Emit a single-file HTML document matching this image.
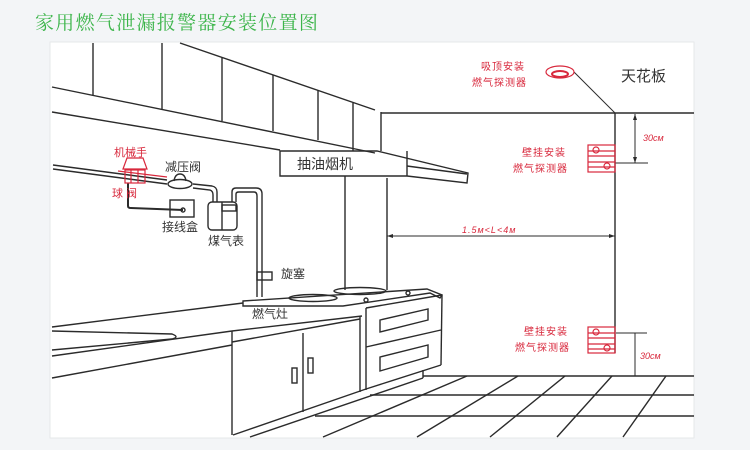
<!DOCTYPE html>
<html><head><meta charset="utf-8"><style>
body{margin:0;width:750px;height:450px;background:#f3f5f7;overflow:hidden}
svg{position:absolute;left:0;top:0}
</style></head><body>
<svg width="750" height="450" viewBox="0 0 750 450" xmlns="http://www.w3.org/2000/svg">
<text x="35" y="29" font-family="Liberation Serif, Noto Serif CJK SC, serif" font-size="19" fill="#3cb54a" letter-spacing="1.3">家用燃气泄漏报警器安装位置图</text>
<rect x="50" y="42" width="644" height="396" fill="#fff" stroke="#e6e8ea"/>
<g fill="none" stroke="#2b2b2b" stroke-width="1.4">
<!-- upper cabinets -->
<line x1="180" y1="43" x2="375" y2="110"/>
<line x1="52" y1="87" x2="375" y2="153"/>
<line x1="52" y1="112" x2="280" y2="150"/>
<line x1="93" y1="43" x2="93" y2="95"/>
<line x1="162" y1="43" x2="162" y2="109"/>
<line x1="222" y1="57" x2="222" y2="121"/>
<line x1="273" y1="75" x2="273" y2="131"/>
<line x1="318" y1="90" x2="318" y2="140"/>
<line x1="353" y1="103" x2="353" y2="151"/>
<line x1="381" y1="112" x2="381" y2="151"/>
<!-- ceiling & wall -->
<line x1="381" y1="113" x2="694" y2="113"/>
<line x1="615" y1="113" x2="615" y2="353"/>
<!-- hood -->
<path d="M280,151 L377,151 L468,173 L467,183 L407,176 L280,176 Z"/>
<line x1="377" y1="151" x2="407" y2="176" stroke-width="0"/>
<line x1="407" y1="151" x2="407" y2="176"/>
<line x1="407" y1="166" x2="467" y2="174"/>
<line x1="345" y1="176" x2="345" y2="290"/>
<line x1="387" y1="178" x2="387" y2="290"/>
<!-- dimension L -->
<line x1="387" y1="236" x2="615" y2="236" stroke-width="1"/>
<!-- gas pipe -->
<path d="M53,165 L167,180 M53,169 L167,184"/>
<path d="M193,184 L212,186 Q217,187 217,192 L217,202 M193,188 L210,190 Q213,191 213,195 L213,202"/>
<path d="M232,202 L232,192 Q232,188 236,188 L256,188 Q262,188 262,194 L262,297 M236,202 L236,194 Q236,192 239,192 L254,192 Q257,192 257,196 L257,297"/>
<rect x="208" y="202" width="29" height="28" rx="4"/>
<rect x="222" y="205" width="14" height="6"/>
<line x1="222" y1="202" x2="222" y2="230"/>
<ellipse cx="180" cy="184" rx="12" ry="4.5"/>
<path d="M174,181 Q175,174 180,174 Q185,174 186,181"/>
<rect x="170" y="200" width="24" height="17"/>
<circle cx="183" cy="210" r="2"/>
<path d="M128,183 L128,206 Q128,208 131,208 L183,210" stroke-width="2"/>
<rect x="257" y="272" width="15" height="8"/>
<!-- stove -->
<path d="M243,301 L427,289 L442,295 L440,298 L430,293 L343,306 L243,306 Z"/>
<ellipse cx="313" cy="298" rx="24" ry="3.5"/>
<ellipse cx="360" cy="291" rx="26" ry="3.5"/>
<circle cx="366" cy="300" r="2"/>
<circle cx="408" cy="293" r="2"/>
<!-- counter -->
<line x1="52" y1="327" x2="243" y2="303"/>
<path d="M52,331 L172,334 Q180,337 172,339 L52,350"/>
<line x1="52" y1="356" x2="232" y2="331"/>
<line x1="52" y1="378" x2="232" y2="345"/>
<line x1="232" y1="331" x2="362" y2="316"/>
<line x1="232" y1="342" x2="360" y2="319"/>
<line x1="232" y1="331" x2="232" y2="435"/>
<line x1="303" y1="333" x2="303" y2="412"/>
<line x1="360" y1="317" x2="360" y2="392"/>
<line x1="366" y1="308" x2="366" y2="390"/>
<line x1="233" y1="435" x2="366" y2="389"/>
<rect x="292" y="368" width="5" height="15"/>
<rect x="308" y="358" width="5" height="15"/>
<line x1="366" y1="308" x2="442" y2="295"/>
<line x1="442" y1="295" x2="441" y2="365"/>
<line x1="366" y1="347" x2="441" y2="330"/>
<line x1="366" y1="389" x2="441" y2="365"/>
<path d="M380,320 L428,309 L428,320 L380,332 Z"/>
<path d="M380,357 L428,345 L428,357 L380,371 Z"/>
<line x1="423" y1="370" x2="423" y2="378"/>
<line x1="250" y1="437" x2="423" y2="378"/>
<!-- floor -->
<line x1="423" y1="376" x2="694" y2="376"/>
<line x1="370" y1="395" x2="694" y2="395"/>
<line x1="315" y1="416" x2="694" y2="416"/>
<line x1="467" y1="376" x2="323" y2="437"/>
<line x1="518" y1="376" x2="417" y2="437"/>
<line x1="565" y1="376" x2="490" y2="437"/>
<line x1="612" y1="376" x2="557" y2="437"/>
<line x1="666" y1="376" x2="623" y2="437"/>
<!-- dimensions 30cm -->
<g stroke-width="1">
<line x1="635" y1="114" x2="635" y2="163"/>
<line x1="615" y1="163" x2="648" y2="163"/>
<line x1="616" y1="333" x2="647" y2="333"/>
<line x1="635" y1="333" x2="635" y2="376"/>
<line x1="574" y1="72" x2="615" y2="113"/>
</g>
</g>
<!-- arrows -->
<g fill="#2b2b2b">
<path d="M635,114 l-2,6 h4z M635,163 l-2,-6 h4z M387,236 l6,-2 v4z M615,236 l-6,-2 v4z"/>
</g>
<!-- red items -->
<g fill="none" stroke="#d8283c" stroke-width="1.2">
<path d="M123,169 L127,158 L143,158 L147,169 Z"/>
<rect x="125" y="170" width="20" height="13"/>
<line x1="131" y1="170" x2="131" y2="183"/><line x1="138" y1="170" x2="138" y2="183"/>
<line x1="118" y1="171" x2="167" y2="177"/>
<ellipse cx="560" cy="72" rx="14" ry="6"/>
<ellipse cx="560" cy="74" rx="8" ry="3" stroke-width="2"/>
<rect x="588" y="145" width="27" height="27"/>
<line x1="588" y1="151" x2="615" y2="151"/><line x1="588" y1="156" x2="615" y2="156"/><line x1="588" y1="162" x2="615" y2="162"/><line x1="588" y1="167" x2="615" y2="167"/>
<circle cx="596" cy="150" r="3"/><circle cx="607" cy="166" r="3"/>
<rect x="588" y="327" width="27" height="26"/>
<line x1="588" y1="333" x2="615" y2="333"/><line x1="588" y1="338" x2="615" y2="338"/><line x1="588" y1="344" x2="615" y2="344"/><line x1="588" y1="349" x2="615" y2="349"/>
<circle cx="596" cy="332" r="3"/><circle cx="607" cy="348" r="3"/>
</g>
<g font-family="Liberation Sans, Noto Sans CJK SC, sans-serif" fill="#d8283c" font-size="10">
<text x="114" y="156" font-size="11">机械手</text>
<text x="112" y="197" font-size="11">球 阀</text>
<text x="481" y="70" letter-spacing="1">吸顶安装</text>
<text x="472" y="86" letter-spacing="1">燃气探测器</text>
<text x="522" y="156" letter-spacing="1">壁挂安装</text>
<text x="513" y="172" letter-spacing="1">燃气探测器</text>
<text x="524" y="335" letter-spacing="1">壁挂安装</text>
<text x="515" y="351" letter-spacing="1">燃气探测器</text>
<text x="643" y="141" font-style="italic" font-size="9">30cм</text>
<text x="640" y="359" font-style="italic" font-size="9">30cм</text>
<text x="462" y="233" font-style="italic" font-size="9" letter-spacing="1">1.5м&lt;L&lt;4м</text>
</g>
<g font-family="Liberation Sans, Noto Sans CJK SC, sans-serif" fill="#333" font-size="12">
<text x="165" y="171">减压阀</text>
<text x="162" y="231">接线盒</text>
<text x="208" y="245">煤气表</text>
<text x="281" y="278">旋塞</text>
<text x="252" y="318">燃气灶</text>
<text x="297" y="169" font-size="14">抽油烟机</text>
<text x="621" y="81" font-size="15">天花板</text>
</g>
</svg>
</body></html>
